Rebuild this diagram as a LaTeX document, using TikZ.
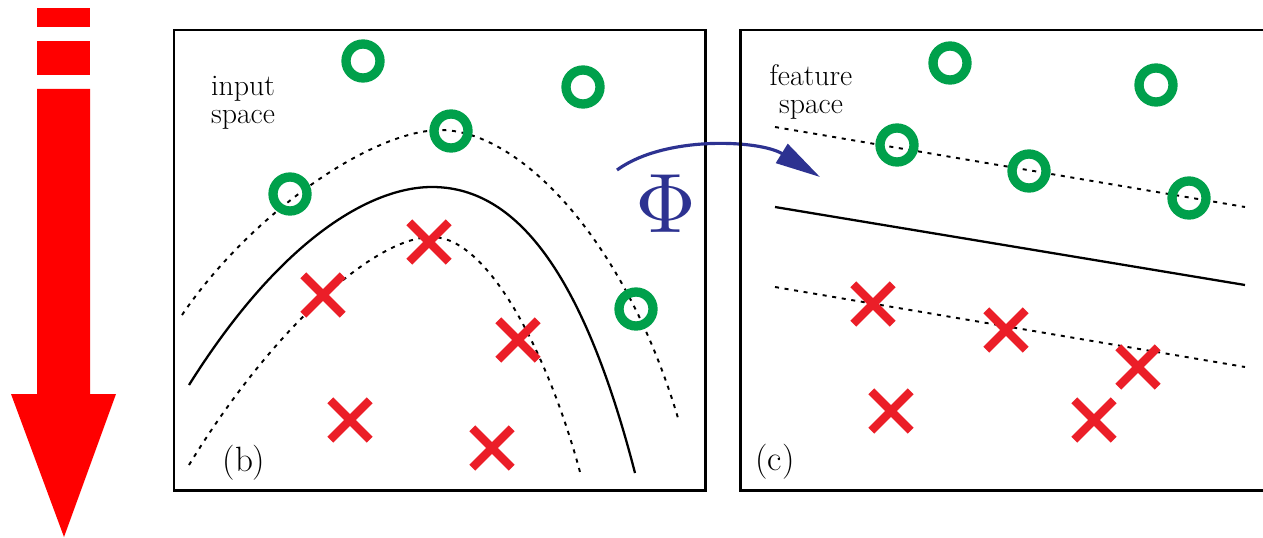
\documentclass[tikz,border=0pt]{standalone}
\usepackage{xcolor}
\usepackage{tikz}
\usetikzlibrary{arrows.meta, shapes.misc}
\definecolor{mygreen}{RGB}{0,160,75}
\definecolor{mycross}{RGB}{235,30,40}
\definecolor{myred}{RGB}{255,0,0}
\definecolor{myblue}{RGB}{45,50,145}
\tikzset{
  posnode/.style={circle, draw=mygreen, line width=5.3pt,
    minimum size=0.68cm, inner sep=0pt},
  negnode/.style={cross out, draw=mycross, line width=4.8pt,
    minimum size=0.62cm, inner sep=0pt},
  panel/.style={draw=black, line width=1.7pt},
  marginline/.style={black, line width=1.1pt, dash pattern=on 2.3pt off 3.2pt},
  sepline/.style={black, line width=1.3pt},
  spacetext/.style={font=\fontsize{17}{16}\selectfont, align=center, inner sep=0pt},
  paneltag/.style={font=\fontsize{20}{20}\selectfont, inner sep=0pt},
  maparrow/.style={-{Triangle[length=0.9cm, width=0.44cm]}, line width=1.8pt, color=myblue}
}

\begin{document}
\begin{tikzpicture}[x=0.02cm, y=-0.02cm]
  \useasboundingbox (0,0) rectangle (1263,537);

  % downward arrow
  \fill[myred] (37,8) rectangle (90,27);
  \fill[myred] (37,41) rectangle (90,75);
  \fill[myred] (37,89) -- (90,89) -- (90,394) -- (116,394) -- (64,537)
    -- (11,394) -- (37,394) -- cycle;

  % input space
  \draw[panel] (174,30) rectangle (705,490);
  \node[spacetext] (intext) at (243,103) {input\\space};
  \node[paneltag] (intag) at (244,463) {(b)};

  \draw[marginline] (182,315) .. controls (250,215) and (370,131) .. (440,130)
    .. controls (520,130) and (625,240) .. (678,418);
  \draw[sepline] (189,385) .. controls (280,240) and (370,187) .. (432,187)
    .. controls (510,187) and (580,260) .. (635,473);
  \draw[marginline] (189,465) .. controls (265,340) and (370,237) .. (432,237)
    .. controls (490,237) and (550,360) .. (580,472);

  \node[posnode] (inp1) at (363,61) {};
  \node[posnode] (inp2) at (583,87) {};
  \node[posnode] (inp3) at (451,131) {};
  \node[posnode] (inp4) at (290,194) {};
  \node[posnode] (inp5) at (636,309) {};

  \node[negnode] (inn1) at (429,242) {};
  \node[negnode] (inn2) at (323,295) {};
  \node[negnode] (inn3) at (518,340) {};
  \node[negnode] (inn4) at (350,420) {};
  \node[negnode] (inn5) at (492,448) {};

  % mapping
  \node[scale=4.8, text=myblue, inner sep=0pt] (phi) at (666,204) {$\Phi$};
  \coordinate (phistart) at (617,170);
  \coordinate (phiend) at (820,177);
  \draw[maparrow] (phistart) .. controls (665,135) and (760,140) .. (phiend);

  % feature space
  \draw[panel] (1263,30) -- (740,30) -- (740,490) -- (1263,490);
  \node[spacetext] (fttext) at (811,92) {feature\\space};
  \node[paneltag] (fttag) at (775,462) {(c)};

  \coordinate (up1) at (775,127);
  \coordinate (up2) at (1245,207);
  \coordinate (mid1) at (775,207);
  \coordinate (mid2) at (1245,285);
  \coordinate (lo1) at (775,287);
  \coordinate (lo2) at (1245,367);
  \draw[marginline] (up1) -- (up2);
  \draw[sepline] (mid1) -- (mid2);
  \draw[marginline] (lo1) -- (lo2);

  \node[posnode] (ftp1) at (950,63) {};
  \node[posnode] (ftp2) at (1156,85) {};
  \node[posnode] (ftp3) at (897,145) {};
  \node[posnode] (ftp4) at (1029,171) {};
  \node[posnode] (ftp5) at (1189,198) {};

  \node[negnode] (ftn1) at (873,304) {};
  \node[negnode] (ftn2) at (1006,330) {};
  \node[negnode] (ftn3) at (1138,367) {};
  \node[negnode] (ftn4) at (891,411) {};
  \node[negnode] (ftn5) at (1094,420) {};
\end{tikzpicture}
\end{document}
